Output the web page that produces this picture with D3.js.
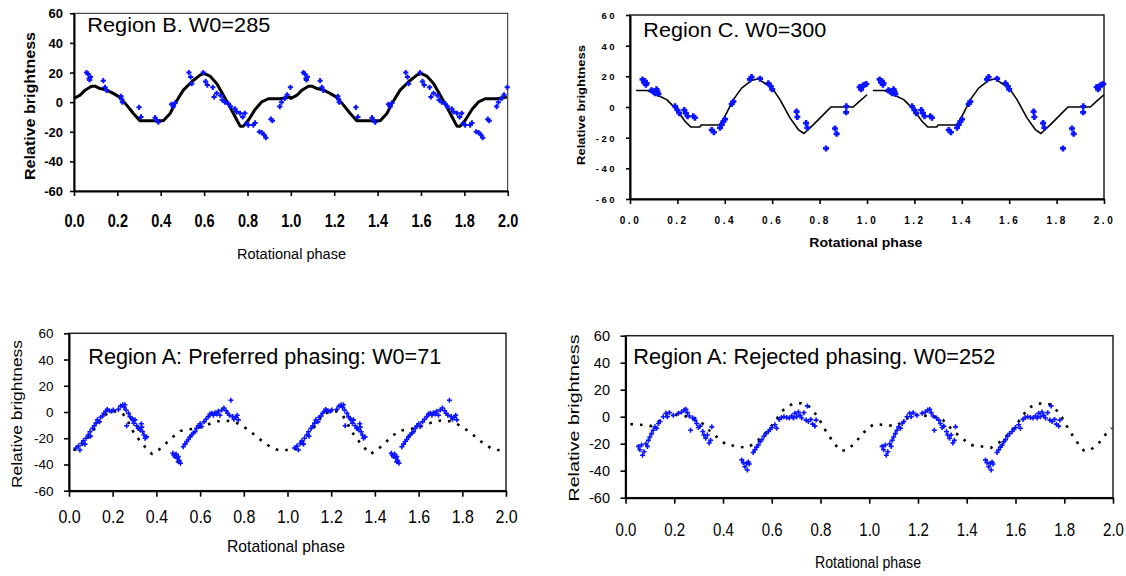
<!DOCTYPE html>
<html><head><meta charset="utf-8">
<script src="https://cdn.jsdelivr.net/npm/d3@7"></script>
<style>
body{margin:0;background:#fff}
svg{display:block}
text{font-family:"Liberation Sans",Arial,Helvetica,sans-serif;fill:#000}
</style>
</head><body>
<svg id="chart" width="1126" height="576"></svg>
<script>
// ---------- data ----------
const phaseTicks = [0, 0.2, 0.4, 0.6, 0.8, 1.0, 1.2, 1.4, 1.6, 1.8, 2.0];
const phaseTickLabels = ["0.0","0.2","0.4","0.6","0.8","1.0","1.2","1.4","1.6","1.8","2.0"];
const brightTicks = [-60, -40, -20, 0, 20, 40, 60];
const brightTickLabels = ["-60","-40","-20","0","20","40","60"];
const panelTitles = ["Region B. W0=285", "Region C. W0=300",
  "Region A: Preferred phasing: W0=71", "Region A: Rejected phasing. W0=252"];
const xTitle = "Rotational phase";
const yTitle = "Relative brightness";

// Region B (one rotation; plotted again at phase+1)
const regionBObs = [
 [0.058,20],[0.065,19],[0.07,16],[0.072,15],[0.076,17],
 [0.135,14.5],[0.143,10],[0.15,8],
 [0.217,4],[0.22,2],[0.223,0],
 [0.3,-3.5],[0.309,-10],
 [0.374,-10.5],[0.381,-12],[0.389,-13.5],
 [0.45,-1.5],[0.458,-3],[0.466,-0.5],
 [0.53,20],[0.538,17],[0.543,12.5],
 [0.596,20],[0.607,14],[0.615,11.5],[0.64,10],[0.646,3.5],[0.658,6],[0.676,4.5],[0.684,1.5],
 [0.696,0],[0.712,-1],[0.722,-3],[0.742,-4.5],[0.75,-6.5],[0.766,-7.5],[0.778,-10],[0.788,-7.5],
 [0.796,-14.5],[0.804,-15.5],[0.827,-15.5],[0.835,-14],[0.855,-20],[0.866,-20.5],[0.876,-22],[0.885,-24],
 [0.908,-11.5],[0.915,-12.5],
 [0.949,-3],[0.957,0],[0.972,2.5],[0.983,5],[0.998,10]
];
const regionBModel = [
 [0,2.5],[0.028,4.7],[0.051,8.1],[0.081,10.8],[0.097,10.8],[0.12,9.2],[0.151,8.1],[0.181,5.9],
 [0.212,3.2],[0.243,-2],[0.274,-7.7],[0.304,-12.6],[0.412,-12.6],[0.443,-7.7],[0.466,-0.9],
 [0.504,8.1],[0.543,13.8],[0.581,18.3],[0.6,19.4],[0.627,17.6],[0.658,12.6],[0.689,4.7],
 [0.719,-3.2],[0.743,-9.9],[0.766,-16.2],[0.781,-16.2],[0.804,-12.2],[0.835,-5],[0.866,0.2],
 [0.896,2.3],[0.95,2.3],[0.996,3.4]
];

// Region C
const regionCObs = [
 [0.053,18],[0.059,16],[0.063,17],[0.067,14.5],[0.07,15.5],
 [0.091,11],[0.1,10],[0.106,9],[0.112,11.5],[0.116,10],[0.12,8.5],
 [0.19,0.5],[0.2,-2],[0.208,-4],
 [0.229,-2],[0.236,-4],[0.243,-6],
 [0.267,-6],[0.274,-7],
 [0.345,-15],[0.354,-16.5],
 [0.38,-13.5],[0.387,-11.5],[0.394,-9.5],[0.401,-8],
 [0.429,2],[0.436,3.5],
 [0.506,18],[0.513,19.5],[0.549,18.5],
 [0.584,15.5],[0.594,13.5],[0.6,11.5],
 [0.703,-3],[0.706,-6.5],
 [0.743,-10.5],[0.748,-13.5],
 [0.827,-27],
 [0.865,-14],[0.872,-17.5],
 [0.913,0.5],[0.912,-3.5],
 [0.969,13],[0.975,11.5],[0.983,14],[0.99,14.5],[0.997,15]
];
const regionCModel = [
 [0.025,10.8],[0.073,10.8],[0.112,8],[0.155,4.8],[0.197,-1.7],[0.232,-9.3],[0.256,-13],
 [0.295,-13],[0.3,-11.7],[0.38,-11.7],[0.408,-3.9],[0.436,4.8],[0.471,12.3],[0.513,17.3],
 [0.541,18.4],[0.563,16],[0.6,12.3],[0.633,4.8],[0.675,-7.1],[0.71,-14.7],[0.734,-17.3],
 [0.774,-11.5],[0.816,-5],[0.848,0],[0.942,0],[0.968,3.7],[1.0,8]
];

// Region A, preferred phasing
const regionAPrefObs = [
 [0.032,-27.5],[0.043,-26],[0.05,-29],[0.058,-24],[0.066,-22],[0.073,-24.5],[0.078,-20],[0.088,-17.5],
 [0.096,-15],[0.099,-18.5],[0.108,-12.5],[0.116,-10.5],[0.124,-8.5],[0.13,-6],[0.139,-7.5],[0.145,-4],
 [0.154,-3],[0.16,-1],[0.169,0.5],[0.175,2],[0.185,1],[0.195,0.5],[0.203,1.5],[0.226,2],[0.236,4.5],
 [0.246,5.5],[0.252,3.5],[0.256,5.5],[0.261,1.5],[0.264,-10.5],[0.272,-1],[0.279,-3.5],[0.287,-5],
 [0.291,-6],[0.297,-8.5],[0.302,-6],[0.31,-10.5],[0.317,-12.5],[0.325,-13.5],[0.333,-11.5],[0.337,-15],
 [0.343,-17.5],[0.348,-20],[0.355,-19],[0.331,-9],
 [0.475,-31.5],[0.48,-33],[0.485,-34],[0.49,-32],[0.495,-35],[0.5,-34],[0.5,-38],[0.505,-37],[0.51,-39],
 [0.523,-26.5],[0.531,-24.5],[0.539,-22.5],[0.546,-21],[0.554,-19],[0.561,-17.5],[0.569,-16],[0.577,-15],
 [0.584,-12.5],[0.592,-10.5],[0.6,-9],[0.607,-11],[0.618,-7.5],[0.627,-5.5],[0.638,-3.5],[0.645,-1.5],
 [0.653,-1],[0.661,-2.5],[0.668,-0.5],[0.676,-1.5],[0.683,0.5],[0.691,-2.5],[0.699,1.5],[0.709,3],
 [0.719,1],[0.726,-1],[0.734,-2.5],[0.741,9],[0.749,-3.5],[0.755,-5.5],[0.764,-4],[0.77,-2.5],[0.775,-6]
];
const regionAPrefModel = [
 [0.02,-29],[0.04,-28],[0.066,-24],[0.09,-19],[0.12,-12],[0.15,-5],[0.175,-1],[0.2,0.5],[0.225,0.5],
 [0.25,-2],[0.27,-7],[0.29,-14],[0.32,-21],[0.35,-27],[0.38,-32],[0.41,-29],[0.44,-24.5],[0.475,-19],
 [0.51,-14.5],[0.54,-13.5],[0.58,-12.5],[0.62,-10.5],[0.66,-8],[0.7,-6.5],[0.74,-7],[0.77,-8.5],
 [0.81,-12.5],[0.85,-17.5],[0.89,-23],[0.93,-27.5],[0.96,-29],[1.0,-29]
];

// Region A, rejected phasing
const regionARejObs = [
 [0.053,-22],[0.059,-24.5],[0.066,-21],[0.07,-28.5],[0.076,-26],[0.084,-20],[0.09,-22],[0.094,-17.5],
 [0.1,-15],[0.107,-12.5],[0.114,-10],[0.121,-7.5],[0.128,-8.5],[0.135,-5],[0.142,-3.5],[0.155,0],
 [0.166,2.5],[0.172,0],[0.18,3],[0.196,1],[0.217,2.5],[0.23,3.5],[0.24,5],[0.248,5.5],[0.254,3],
 [0.262,0.5],[0.267,-10],[0.276,-1],[0.285,-2.5],[0.292,-5],[0.299,-8],[0.306,-7],[0.317,-11],
 [0.322,-13.5],[0.329,-16],[0.336,-13.5],[0.343,-19.5],[0.349,-17.5],[0.354,-7.5],
 [0.477,-32],[0.483,-34],[0.49,-37],[0.497,-34.5],[0.5,-39.5],[0.504,-33.5],[0.508,-35],
 [0.524,-26.5],[0.531,-24.5],[0.538,-22.5],[0.545,-21],[0.552,-18.5],[0.559,-17],[0.568,-14.5],
 [0.576,-12.5],[0.586,-11],[0.593,-9.5],[0.6,-8],[0.613,-6],[0.62,-8.5],[0.631,-2],[0.64,-0.5],
 [0.65,0],[0.661,-0.5],[0.672,-1],[0.682,0.5],[0.689,-1],[0.695,2.5],[0.702,0],[0.709,3.5],
 [0.716,1],[0.723,-1],[0.732,3],[0.741,-2.5],[0.746,8],[0.75,-3.5],[0.76,-2],[0.768,-5.5],
 [0.777,-7],[0.782,-2.5]
];
const regionARejModel = [
 [0.02,-5.5],[0.06,-6],[0.11,-7],[0.14,-3],[0.176,1],[0.2,1.5],[0.237,0.5],[0.27,0],[0.3,-2],
 [0.326,-7],[0.354,-12],[0.385,-16.5],[0.415,-21],[0.445,-21.5],[0.475,-22.5],[0.5,-23],[0.53,-19.5],
 [0.56,-15],[0.585,-10],[0.607,-5],[0.625,-0.5],[0.645,4.5],[0.665,7.5],[0.685,9.5],[0.72,10],
 [0.745,9],[0.765,5.5],[0.79,-0.5],[0.82,-10],[0.853,-19],[0.88,-25],[0.905,-25],[0.94,-20],
 [0.968,-13.5],[0.995,-8.5]
];

// ---------- drawing ----------
const twoCycles = arr => arr.concat(arr.map(([p, v]) => [p + 1, v]));
const shifted = arr => arr.map(([p, v]) => [p + 1, v]);

const panels = [
 { title: panelTitles[0], obs: regionBObs, modelSegs: [twoCycles(regionBModel)],
   x0: 74, x1: 507.7, y0: 13.3, y1: 191,
   modelStyle: { w: 3, dash: null }, mark: { r: 2.6, w: 2 },
   xLab: { dy: 29, fs: 14.5, fw: "bold", sy: 1.25, ls: 0 }, yLab: { gap: 11, fs: 13, fw: "bold", ls: 0 },
   tickX: 5, tickY: 4,
   xT: { cx: 291.5, cy: 253, len: 109, fs: 15.5, fw: "normal" },
   yT: { cx: 29.5, cy: 106, len: 148, fs: 14, fw: "bold" },
   tT: { x: 87.3, y: 32.3, len: 183, fs: 20 }, frameW: 1 },
 { title: panelTitles[1], obs: regionCObs, modelSegs: [regionCModel, shifted(regionCModel)],
   x0: 630, x1: 1104, y0: 15, y1: 199,
   modelStyle: { w: 1.6, dash: null }, mark: { r: 3, w: 2.6 },
   xLab: { dy: 21, fs: 10, fw: "bold", sy: 1, ls: 2.5 }, yLab: { gap: 13, fs: 9.5, fw: "bold", ls: 2.5 },
   tickX: 5, tickY: 4,
   xT: { cx: 865.8, cy: 242.7, len: 113, fs: 12, fw: "bold" },
   yT: { cx: 580.5, cy: 105, len: 120, fs: 11.5, fw: "bold" },
   tT: { x: 643.3, y: 37.3, len: 183, fs: 20 }, frameW: 1.5 },
 { title: panelTitles[2], obs: regionAPrefObs, modelSegs: [twoCycles(regionAPrefModel)],
   x0: 69, x1: 506, y0: 333.3, y1: 490.7,
   modelStyle: { w: 2.6, dash: "2.6,7" }, mark: { r: 2.5, w: 1.6 },
   xLab: { dy: 26, fs: 16, fw: "normal", sy: 1.2, ls: 0 }, yLab: { gap: 15.5, fs: 13.5, fw: "normal", ls: 0 },
   tickX: 6, tickY: 5,
   xT: { cx: 286, cy: 546, len: 118, fs: 17, fw: "normal" },
   yT: { cx: 16.7, cy: 414, len: 148, fs: 15, fw: "normal" },
   tT: { x: 88.3, y: 364.3, len: 353, fs: 21.5 }, frameW: 1.5 },
 { title: panelTitles[3], obs: regionARejObs, modelSegs: [twoCycles(regionARejModel)],
   x0: 625.5, x1: 1113, y0: 335.7, y1: 497.7,
   modelStyle: { w: 2.6, dash: "2.6,7" }, mark: { r: 2.5, w: 1.6 },
   xLab: { dy: 32.3, fs: 15, fw: "normal", sy: 1.25, ls: 0 }, yLab: { gap: 15.5, fs: 14.5, fw: "normal", ls: 0 },
   tickX: 6, tickY: 5,
   xT: { cx: 868, cy: 562.7, len: 106, fs: 16, fw: "normal" },
   yT: { cx: 573.5, cy: 418, len: 167, fs: 15.5, fw: "normal" },
   tT: { x: 633.3, y: 364, len: 362, fs: 21.5 }, frameW: 1.5 }
];

const svg = d3.select("#chart");

panels.forEach(P => {
  const g = svg.append("g");
  const x = d3.scaleLinear().domain([0, 2]).range([P.x0, P.x1]);
  const y = d3.scaleLinear().domain([-60, 60]).range([P.y1, P.y0]);

  // frame
  g.append("rect").attr("x", P.x0).attr("y", P.y0)
    .attr("width", P.x1 - P.x0).attr("height", P.y1 - P.y0)
    .attr("fill", "none").attr("stroke", "#222").attr("stroke-width", P.frameW);

  // x axis
  const gx = g.append("g").attr("transform", `translate(0,${P.y1})`)
    .call(d3.axisBottom(x).tickValues(phaseTicks)
      .tickFormat((d, i) => phaseTickLabels[i]).tickSize(P.tickX).tickSizeOuter(0));
  gx.select(".domain").attr("stroke", "#000").attr("stroke-width", 2);
  gx.selectAll(".tick line").attr("stroke", "#000").attr("stroke-width", 1.6);
  gx.selectAll(".tick text")
    .attr("y", null).attr("dy", null)
    .attr("dominant-baseline", "central")
    .attr("transform", `translate(0,${P.xLab.dy}) scale(1,${P.xLab.sy})`)
    .style("font-size", P.xLab.fs + "px").style("font-weight", P.xLab.fw)
    .style("letter-spacing", P.xLab.ls + "px").attr("fill", "#000");

  // y axis
  const gy = g.append("g").attr("transform", `translate(${P.x0},0)`)
    .call(d3.axisLeft(y).tickValues(brightTicks)
      .tickFormat((d, i) => brightTickLabels[i]).tickSize(P.tickY).tickSizeOuter(0));
  gy.select(".domain").attr("stroke", "#000").attr("stroke-width", 2);
  gy.selectAll(".tick line").attr("stroke", "#000").attr("stroke-width", 1.6);
  gy.selectAll(".tick text")
    .attr("x", null).attr("dy", null)
    .attr("dominant-baseline", "central")
    .attr("transform", `translate(${-P.yLab.gap},0)`)
    .style("font-size", P.yLab.fs + "px").style("font-weight", P.yLab.fw)
    .style("letter-spacing", P.yLab.ls + "px").attr("fill", "#000");

  // model curve(s)
  const line = d3.line().x(d => x(d[0])).y(d => y(d[1]));
  P.modelSegs.forEach(seg => {
    g.append("path").attr("d", line(seg)).attr("fill", "none")
      .attr("stroke", "#000").attr("stroke-width", P.modelStyle.w)
      .attr("stroke-linejoin", "round")
      .attr("stroke-dasharray", P.modelStyle.dash);
  });

  // observations (plus markers), shown over two rotations
  const r = P.mark.r;
  g.append("g").selectAll("path").data(twoCycles(P.obs)).join("path")
    .attr("d", d => `M${x(d[0]) - r},${y(d[1])}H${x(d[0]) + r}M${x(d[0])},${y(d[1]) - r}V${y(d[1]) + r}`)
    .attr("stroke", "#0a14ff").attr("stroke-width", P.mark.w).attr("fill", "none");

  // panel title
  g.append("text").attr("x", P.tT.x).attr("y", P.tT.y)
    .attr("textLength", P.tT.len).attr("lengthAdjust", "spacingAndGlyphs")
    .style("font-size", P.tT.fs + "px").attr("fill", "#111").text(P.title);

  // axis titles
  g.append("text").attr("x", P.xT.cx).attr("y", P.xT.cy)
    .attr("text-anchor", "middle").attr("dominant-baseline", "central")
    .attr("textLength", P.xT.len).attr("lengthAdjust", "spacingAndGlyphs")
    .style("font-size", P.xT.fs + "px").style("font-weight", P.xT.fw).text(xTitle);
  g.append("text").attr("transform", `translate(${P.yT.cx},${P.yT.cy}) rotate(-90)`)
    .attr("text-anchor", "middle").attr("dominant-baseline", "central")
    .attr("textLength", P.yT.len).attr("lengthAdjust", "spacingAndGlyphs")
    .style("font-size", P.yT.fs + "px").style("font-weight", P.yT.fw).text(yTitle);
});
</script>
</body></html>
